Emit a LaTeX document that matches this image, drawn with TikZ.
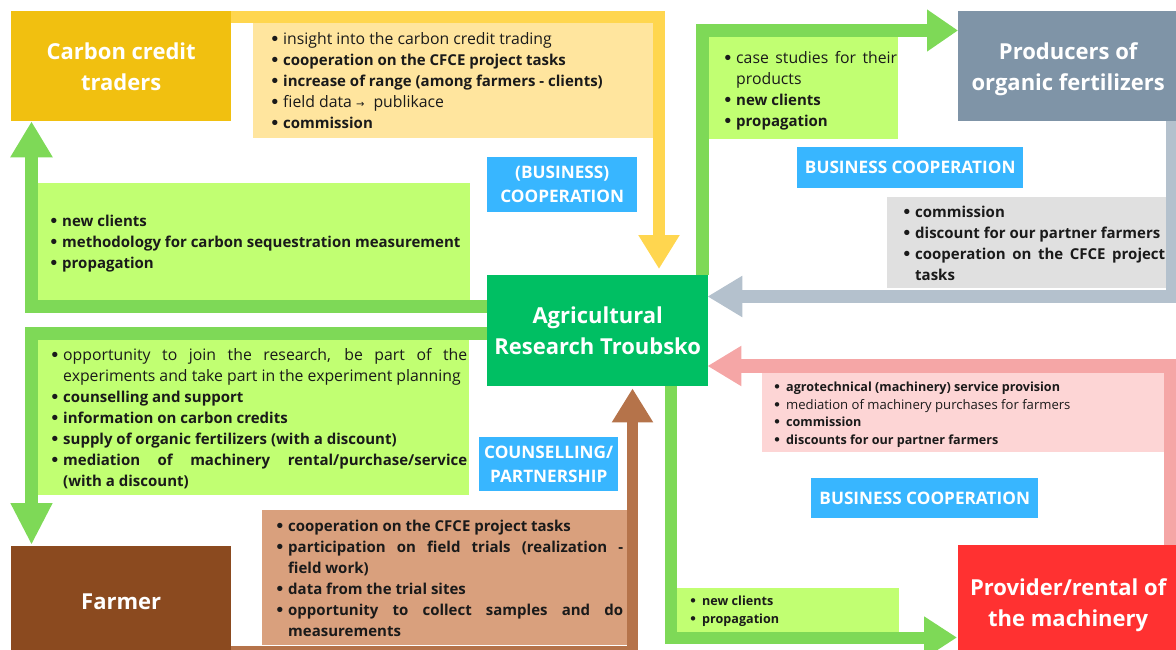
\documentclass[tikz,border=0pt]{standalone}
\usepackage{fontspec}
\setmainfont{Open Sans}
\newfontfamily\symfont{DejaVu Sans}
\usetikzlibrary{arrows.meta,calc}

% actor colours
\definecolor{cTrader}{HTML}{F1C010}
\definecolor{cProd}{HTML}{7F94A7}
\definecolor{cAgri}{HTML}{00BF63}
\definecolor{cFarmer}{HTML}{8B4A1F}
\definecolor{cProv}{HTML}{FF3131}
\definecolor{cBlue}{HTML}{38B6FF}
% arrow colours
\definecolor{aGreen}{HTML}{7ED957}
\definecolor{aYellow}{HTML}{FFD64F}
\definecolor{aBrown}{HTML}{B5734A}
\definecolor{aGray}{HTML}{B4C1CD}
\definecolor{aPink}{HTML}{F5A6A6}
% panel colours
\definecolor{fYellow}{HTML}{FFE59E}
\definecolor{fGreen}{HTML}{C1FF72}
\definecolor{fBrown}{HTML}{D9A07D}
\definecolor{fGray}{HTML}{E0E0E0}
\definecolor{fPink}{HTML}{FDD5D5}
\definecolor{ink}{HTML}{1A1A1A}

% bullet item with hanging indent
\newlength\bind
\setlength\bind{13pt}
\newcommand\li[1]{\par\noindent\hangindent=\bind\hangafter=1\makebox[\bind][l]{\rule{0pt}{12pt}{\symfont •}}#1}
% regular-weight runs are set a little larger
\newcommand\rg[1]{{\fontsize{15.8}{21}\selectfont #1}}
\newcommand\srg[1]{{\fontsize{13.1}{17.7}\selectfont #1}}

\tikzset{
  actor/.style={rectangle, inner sep=0pt, anchor=north west, text=white,
    font=\bfseries\fontsize{22}{31}\selectfont, align=center, text depth=0pt},
  panel/.style={rectangle, inner sep=0pt, anchor=north west, draw=none},
  tag/.style={rectangle, fill=cBlue, text=white, inner sep=0pt, anchor=north west,
    font=\bfseries\fontsize{17.2}{24}\selectfont, align=center},
  list/.style={inner sep=0pt, anchor=north west, align=justify, text=ink,
    font=\bfseries\fontsize{15}{21}\selectfont},
  smalllist/.style={list, font=\bfseries\fontsize{12.6}{17.7}\selectfont},
  band/.style={line width=12pt, line join=miter, line cap=butt},
}

\begin{document}
\begin{tikzpicture}[x=1pt,y=-1pt]
\useasboundingbox (0,0) rectangle (1176,650);
\clip (0,0) rectangle (1176,650);

% ---- text panels ----
\node[panel, fill=fYellow, minimum width=400pt, minimum height=115pt] (pTrader) at (253,23) {};
\node[panel, fill=fGreen, minimum width=432pt, minimum height=117pt] (pToTrader) at (38,183) {};
\node[panel, fill=fGreen, minimum width=431pt, minimum height=156pt] (pToFarmer) at (38,339) {};
\node[panel, fill=fBrown, minimum width=365pt, minimum height=135pt] (pFarmer) at (262,510) {};
\node[panel, fill=fGreen, minimum width=190pt, minimum height=102pt] (pToProd) at (708,37) {};
\node[panel, fill=fGray, minimum width=280pt, minimum height=91pt] (pProd) at (887,197) {};
\node[panel, fill=fPink, minimum width=404pt, minimum height=79pt] (pProv) at (762,373) {};
\node[panel, fill=fGreen, minimum width=222pt, minimum height=44pt] (pToProv) at (677,588) {};

% ---- lists ----
\node[list, text width=375pt] (tTrader) at (270,23) {%
  \li{\rg{\mdseries insight into the carbon credit trading}}
  \li{cooperation on the CFCE project tasks}
  \li{increase of range (among farmers - clients)}
  \li{\rg{\mdseries field data {\symfont\fontsize{10}{21}\selectfont →}\hspace{9pt}publikace}}
  \li{commission}\par};

\node[list, text width=420pt] (tToTrader) at (49,205) {%
  \li{new clients}
  \li{methodology for carbon sequestration measurement}
  \li{propagation}\par};

\node[list, text width=417pt] (tToFarmer) at (50,339) {%
  \li{\rg{\mdseries opportunity to join the research, be part of the\linebreak experiments and take part in the experiment planning}}
  \li{counselling and support}
  \li{information on carbon credits}
  \li{supply of organic fertilizers (with a discount)}
  \li{mediation of machinery rental/purchase/service\linebreak (with a discount)}\par};

\node[list, text width=348pt] (tFarmer) at (275,510) {%
  \li{cooperation on the CFCE project tasks}
  \li{participation on field trials (realization -\linebreak field work)}
  \li{data from the trial sites}
  \li{opportunity to collect samples and do\linebreak measurements}\par};

\node[list, text width=174pt] (tToProd) at (723,42) {%
  \li{\rg{\mdseries case studies for their\linebreak products}}
  \li{new clients}
  \li{propagation}\par};

\node[list, text width=263pt] (tProd) at (902,196) {%
  \li{commission}
  \li{discount for our partner farmers}
  \li{cooperation on the CFCE project\linebreak tasks}\par};

\node[smalllist, text width=380pt] (tProv) at (773,373.5) {%
  \li{agrotechnical (machinery) service provision}
  \li{\srg{\mdseries mediation of machinery purchases for farmers}}
  \li{commission}
  \li{discounts for our partner farmers}\par};

\node[smalllist, text width=200pt] (tToProv) at (689,587.5) {%
  \li{new clients}
  \li{propagation}\par};

% ---- relation tags ----
\node[tag, minimum width=150pt, minimum height=55pt] (tagA) at (487,157) {(BUSINESS)\\COOPERATION};
\node[tag, minimum width=226pt, minimum height=41pt] (tagB) at (797,147) {BUSINESS COOPERATION};
\node[tag, minimum width=139pt, minimum height=54pt] (tagC) at (479,437) {COUNSELLING/\\PARTNERSHIP};
\node[tag, minimum width=227pt, minimum height=40pt] (tagD) at (811,478) {BUSINESS COOPERATION};

% ---- actors ----
\node[actor, fill=cTrader, minimum width=220pt, minimum height=110pt] (trader) at (11,11) {Carbon credit\\traders};
\node[actor, fill=cProd, minimum width=220pt, minimum height=110pt] (prod) at (958,11) {Producers of\\organic fertilizers};
\node[actor, fill=cAgri, minimum width=221pt, minimum height=111pt] (agri) at (487,275) {Agricultural\\Research Troubsko};
\node[actor, fill=cFarmer, minimum width=220pt, minimum height=110pt] (farmer) at (11,546) {Farmer};
\node[actor, fill=cProv, minimum width=220pt, minimum height=114pt] (prov) at (958,545) {Provider/rental of\\the machinery};

% ---- bend points ----
\coordinate (kY) at (659,17);
\coordinate (kG1) at (31.5,306);
\coordinate (kG2) at (31.5,333);
\coordinate (kB) at (632.5,651);
\coordinate (kG3) at (702,30.5);
\coordinate (kS) at (1172,296.5);
\coordinate (kP) at (1171,366);
\coordinate (kG4) at (670.5,637.5);

% ---- flows ----
\draw[band, aYellow, -{Triangle[width=39pt,length=34pt]}, shorten >=6pt]
  (trader.east |- kY) -- (kY) -- (kY |- agri.north);
\draw[band, aGreen, line width=13pt, -{Triangle[width=40pt,length=36pt]}]
  (agri.west |- kG1) -- (kG1) -- (kG1 |- trader.south);
\draw[band, aGreen, line width=13pt, -{Triangle[width=39pt,length=42pt]}, shorten >=1pt]
  (agri.west |- kG2) -- (kG2) -- (kG2 |- farmer.north);
\draw[band, aBrown, line width=11pt, -{Triangle[width=39pt,length=34pt]}, shorten >=2pt]
  (farmer.east |- kB) -- (kB) -- (kB |- agri.south);
\draw[band, aGreen, line width=13pt, -{Triangle[width=40pt,length=31pt]}]
  (kG3 |- agri.north) -- (kG3) -- (kG3 -| prod.west);
\draw[band, aGray, line width=13pt, -{Triangle[width=39pt,length=35pt]}, shorten >=-1pt]
  (prod.south -| kS) -- (kS) -- (kS -| agri.east);
\draw[band, aPink, line width=14pt, -{Triangle[width=38pt,length=34pt]}, shorten >=-1pt]
  (prov.north -| kP) -- (kP) -- (kP -| agri.east);
\draw[band, aGreen, line width=12pt, -{Triangle[width=40pt,length=33pt]}, shorten >=1pt]
  (kG4 |- agri.south) -- (kG4) -- (kG4 -| prov.west);
\end{tikzpicture}
\end{document}
